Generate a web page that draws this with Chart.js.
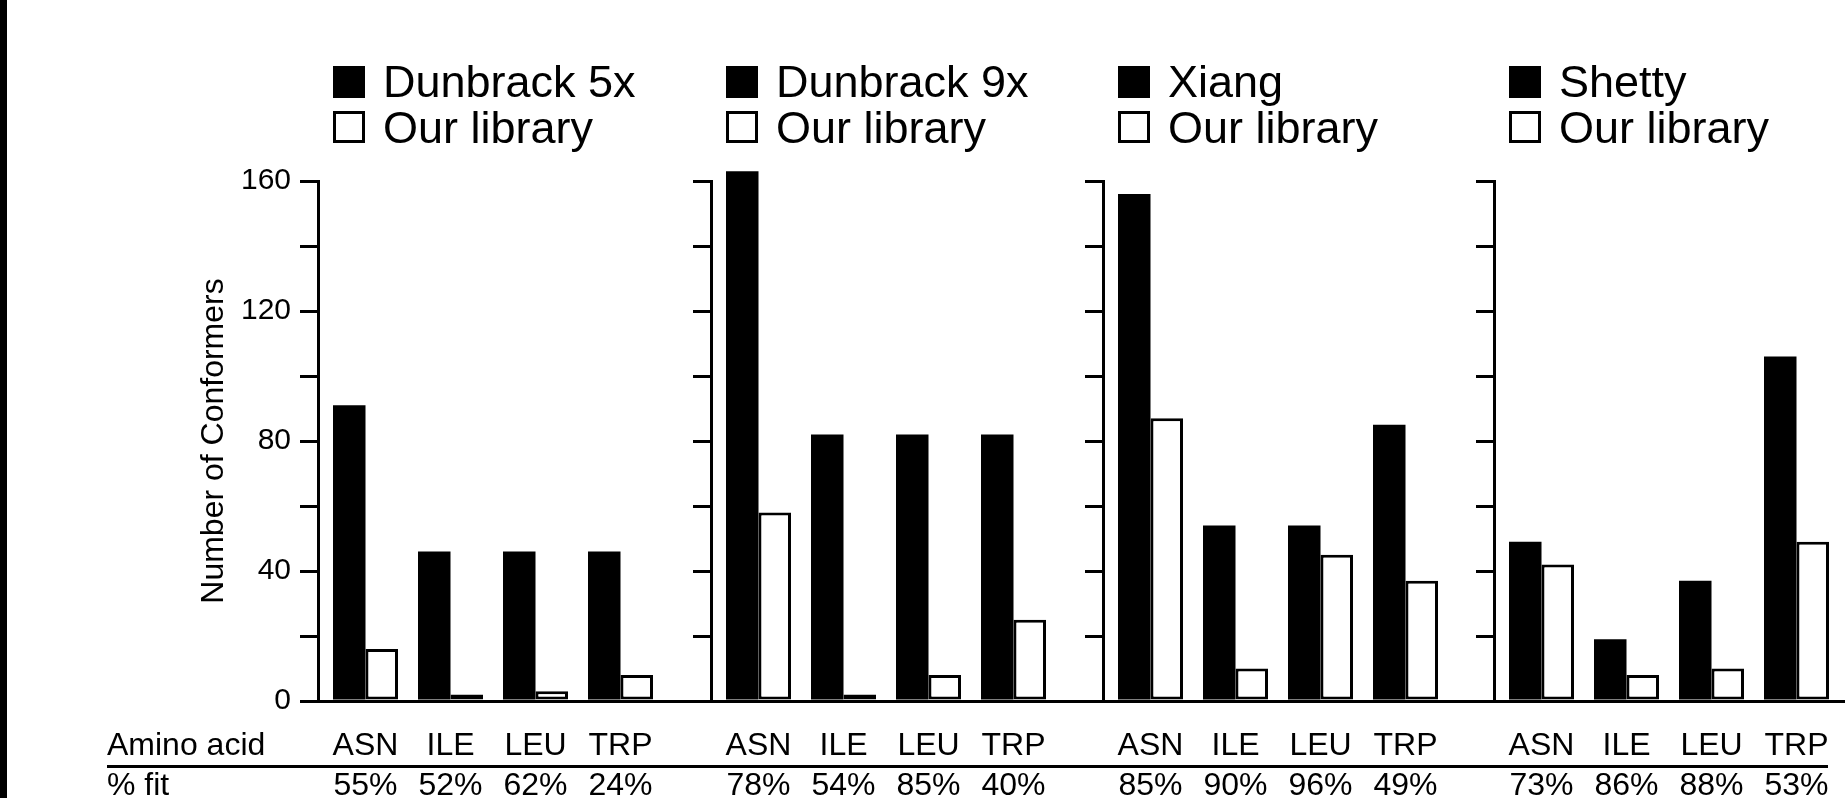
<!DOCTYPE html>
<html>
<head>
<meta charset="utf-8">
<title>Number of Conformers by amino acid</title>
<script src="https://cdn.jsdelivr.net/npm/chart.js@4.4.1/dist/chart.umd.min.js"></script>
<style>
  html, body { margin: 0; padding: 0; background: #fff; }
  body { width: 1845px; height: 798px; position: relative; overflow: hidden; }
  canvas { position: absolute; left: 0; top: 0; }
  #edge { position: absolute; left: 0; top: 0; width: 7px; height: 798px; background: #000; }
</style>
</head>
<body>
<div id="edge"></div>
<canvas id="panel0" width="1845" height="798"></canvas>
<canvas id="panel1" width="1845" height="798"></canvas>
<canvas id="panel2" width="1845" height="798"></canvas>
<canvas id="panel3" width="1845" height="798"></canvas>
<script>
// ---- data ----
const aminoAcids = ['ASN', 'ILE', 'LEU', 'TRP'];
const referenceLibraries = ['Dunbrack 5x', 'Dunbrack 9x', 'Xiang', 'Shetty'];
const ourLibraryLabel = 'Our library';

// conformer counts of each reference library
const dunbrack5x = [91, 46, 46, 46];
const dunbrack9x = [163, 82, 82, 82];
const xiang      = [156, 54, 54, 85];
const shetty     = [49, 19, 37, 106];

// conformer counts of our library, fitted against each reference
const oursVsDunbrack5x = [16, 2, 3, 8];
const oursVsDunbrack9x = [58, 2, 8, 25];
const oursVsXiang      = [87, 10, 45, 37];
const oursVsShetty     = [42, 8, 10, 49];

// % fit per amino acid
const fitDunbrack5x = [55, 52, 62, 24];
const fitDunbrack9x = [78, 54, 85, 40];
const fitXiang      = [85, 90, 96, 49];
const fitShetty     = [73, 86, 88, 53];

const yTickLabels = [0, 40, 80, 120, 160];
const yMax = 160;
const yMinorStep = 20;

const referenceCounts = [dunbrack5x, dunbrack9x, xiang, shetty];
const ourCounts = [oursVsDunbrack5x, oursVsDunbrack9x, oursVsXiang, oursVsShetty];
const fitPercents = [fitDunbrack5x, fitDunbrack9x, fitXiang, fitShetty];

// ---- layout ----
const PAGE_W = 1845, PAGE_H = 798;
const axisX = [318, 711, 1103, 1494];
const panelRight = [711, 1103, 1494, 1845];
const plotTop = 181, plotBottom = 701;
const catStep = 85;         // px between amino acid groups
const firstOffset = 47.5;   // px from axis to first group centre
const groupWidth = 65;      // px width of a black+white pair
const xAxisHeight = 97;
const FONT = '"Liberation Sans", Arial, Helvetica, sans-serif';

Chart.defaults.font.family = FONT;
Chart.defaults.color = '#000';

// legend drawn above each panel
const panelLegend = {
  id: 'panelLegend',
  afterDraw(chart) {
    const ctx = chart.ctx;
    const x0 = chart.chartArea.left + 15;
    const size = 32;
    ctx.save();
    ctx.font = '45px ' + FONT;
    ctx.textBaseline = 'alphabetic';
    ctx.textAlign = 'left';
    chart.data.datasets.forEach((ds, i) => {
      const top = 66 + i * 45;
      ctx.fillStyle = ds.backgroundColor;
      ctx.fillRect(x0, top, size, size);
      if (ds.borderWidth) {
        ctx.strokeStyle = ds.borderColor;
        ctx.lineWidth = 3;
        ctx.strokeRect(x0 + 1.5, top + 1.5, size - 3, size - 3);
      }
      ctx.fillStyle = '#000';
      ctx.fillText(ds.label, x0 + 50, 97 + i * 46);
    });
    ctx.restore();
  }
};

// row headings and the rule between the two label rows
const rowHeadings = {
  id: 'rowHeadings',
  afterDraw(chart, args, opts) {
    if (!opts.show) return;
    const ctx = chart.ctx;
    ctx.save();
    ctx.font = '32px ' + FONT;
    ctx.fillStyle = '#000';
    ctx.textAlign = 'left';
    ctx.textBaseline = 'middle';
    ctx.fillText('Amino acid', 107, 746);
    ctx.fillText('% fit', 107, 786);
    ctx.strokeStyle = '#000';
    ctx.lineWidth = 3;
    ctx.beginPath();
    ctx.moveTo(107, 766.5);
    ctx.lineTo(1828, 766.5);
    ctx.stroke();
    ctx.restore();
  }
};

referenceLibraries.forEach((name, p) => {
  const yWidth = p === 0 ? 123 : 20;
  const fit = fitPercents[p];
  new Chart(document.getElementById('panel' + p), {
    type: 'bar',
    data: {
      datasets: [
        {
          label: name,
          data: referenceCounts[p].map((v, i) => ({ x: i, y: v })),
          backgroundColor: '#000',
          borderWidth: 0,
          clip: false,
          categoryPercentage: groupWidth / catStep,
          barPercentage: 1
        },
        {
          label: ourLibraryLabel,
          data: ourCounts[p].map((v, i) => ({ x: i, y: v })),
          backgroundColor: '#fff',
          borderColor: '#000',
          borderWidth: 3,
          borderSkipped: false,
          clip: false,
          categoryPercentage: groupWidth / catStep,
          barPercentage: 1
        }
      ]
    },
    options: {
      responsive: false,
      animation: false,
      devicePixelRatio: 1,
      events: [],
      layout: {
        padding: {
          left: axisX[p] - yWidth,
          right: PAGE_W - panelRight[p],
          top: plotTop,
          bottom: PAGE_H - plotBottom - xAxisHeight
        }
      },
      scales: {
        x: {
          type: 'linear',
          offset: false,
          bounds: 'data',
          min: -firstOffset / catStep,
          max: (panelRight[p] - axisX[p] - firstOffset) / catStep,
          afterBuildTicks: (scale) => {
            scale.ticks = aminoAcids.map((_, i) => ({ value: i }));
          },
          ticks: {
            autoSkip: false,
            maxRotation: 0,
            minRotation: 0,
            padding: 25,
            color: '#000',
            font: { size: 32, lineHeight: 40 / 32 },
            callback: (value) => {
              const i = Math.round(value);
              return [aminoAcids[i], fit[i] + '%'];
            }
          },
          grid: { display: true, offset: false, drawOnChartArea: false, drawTicks: false, color: 'rgba(0,0,0,0)' },
          border: { display: true, width: 3, color: '#000' },
          afterFit: (scale) => {
            scale.height = xAxisHeight;
            scale.paddingLeft = 0;
            scale.paddingRight = 0;
          }
        },
        y: {
          min: 0,
          max: yMax,
          ticks: {
            stepSize: yMinorStep,
            padding: 9,
            color: '#000',
            font: { size: 30 },
            callback: (v) => (p === 0 && yTickLabels.includes(v)) ? String(v) : ''
          },
          grid: {
            display: true,
            drawOnChartArea: false,
            drawTicks: true,
            tickLength: 18,
            lineWidth: 3,
            color: '#000'
          },
          border: { display: true, width: 3, color: '#000' },
          title: {
            display: p === 0,
            text: 'Number of Conformers',
            color: '#000',
            font: { size: 32, lineHeight: 1.2 },
            padding: 0
          },
          afterFit: (scale) => {
            scale.width = yWidth;
            scale.paddingTop = 0;
            scale.paddingBottom = 0;
          }
        }
      },
      plugins: {
        legend: { display: false },
        tooltip: { enabled: false },
        rowHeadings: { show: p === 0 }
      }
    },
    plugins: [panelLegend, rowHeadings]
  });
});
</script>
</body>
</html>
